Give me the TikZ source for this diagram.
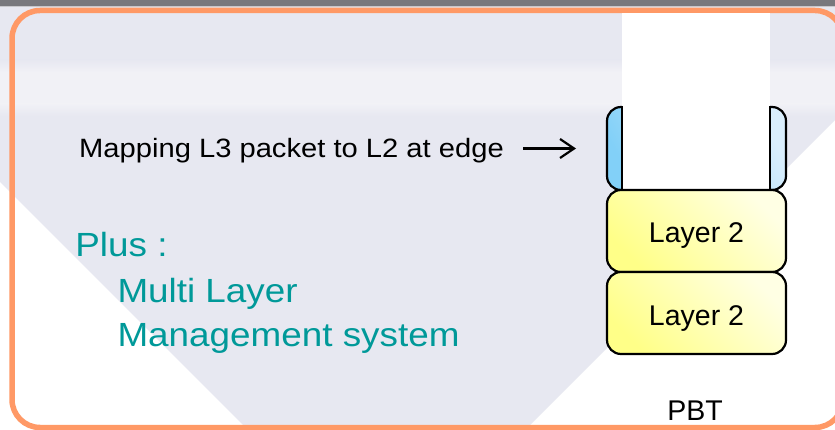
\documentclass[tikz,border=0pt]{standalone}
\usepackage{fontspec}
\setmainfont{Liberation Sans}
\usepackage{graphicx}
\usetikzlibrary{arrows.meta}

\definecolor{frameorange}{RGB}{255,153,102}
\definecolor{plusteal}{RGB}{0,153,153}
\definecolor{wmark}{RGB}{231,232,241}
\definecolor{wband}{RGB}{241,241,246}
\definecolor{topgray}{RGB}{120,120,125}
\definecolor{topline}{RGB}{200,200,204}
\definecolor{capdark}{RGB}{130,208,248}
\definecolor{caplight}{RGB}{218,238,252}
\definecolor{layerdark}{RGB}{255,255,136}
\definecolor{layerlight}{RGB}{255,255,228}

\tikzset{
	frameline/.style={draw=frameorange, line width=5.5pt, rounded corners=28pt},
	layerbox/.style={draw=black, line width=2.2pt, rounded corners=14pt, minimum width=179pt, minimum height=82pt, inner sep=0pt, text height=24pt, text depth=0pt, left color=layerdark, right color=layerlight, shading angle=135, font=\fontsize{28.5}{34}\selectfont},
	capbox/.style={draw=black, line width=2.2pt, rounded corners=14pt, minimum width=179pt, minimum height=83pt, inner sep=0pt, left color=capdark, right color=caplight, shading angle=120},
	maskbox/.style={fill=white, minimum width=148pt, minimum height=177pt, inner sep=0pt},
	capline/.style={draw=black, line width=2.2pt},
	maptext/.style={anchor=base west, inner sep=0pt, font=\fontsize{26.5}{32}\selectfont},
	plustext/.style={anchor=base west, inner sep=0pt, text=plusteal, font=\fontsize{33.5}{45}\selectfont},
	pbtlabel/.style={anchor=base, inner sep=0pt, font=\fontsize{28.5}{34}\selectfont},
	maparrow/.style={draw=black, line width=2.2pt, -{Straight Barb[length=14pt,width=19pt]}}
}

\begin{document}
\begin{tikzpicture}[x=1pt, y=-1pt]
			\useasboundingbox (0,0) rectangle (835,430);
			\fill[white] (0,0) rectangle (835,430);
			\fill[wmark] (0,0) -- (835,0) -- (835,120) -- (525,430) -- (248,430) -- (0,182) -- cycle;
			\shade[top color=wmark, bottom color=wband] (0,60) rectangle (835,72);
			\fill[wband] (0,72) rectangle (835,104);
			\shade[top color=wband, bottom color=wmark] (0,104) rectangle (835,116);
			\fill[topgray] (0,0) rectangle (835,6);
			\fill[topline] (0,6) rectangle (835,7.5);
			\draw[frameline] (12,10.5) rectangle (843,427.5);
			\node[capbox] (cap) at (696.5,148.5) {};
			\node[maskbox] (mask) at (696,101.5) {};
			\draw[capline] (mask.west |- cap.north) -- (mask.south west);
			\draw[capline] (mask.east |- cap.north) -- (mask.south east);
			\node[layerbox] (l2top) at (696.5,231) {Layer 2};
			\node[layerbox] (l2bot) at (696.5,313) {Layer 2};
			\node[pbtlabel] (pbt) at (695,420) {PBT};
			\node[maptext] (map) at (79,158) {\scalebox{1.1}[1]{Mapping L3 packet to L2 at edge}};
			\coordinate (maptip) at (576,148.5);
			\draw[maparrow] ([xshift=19pt]map.east |- maptip) -- (maptip);
			\node[plustext] (plus) at (75.2,257) {\scalebox{1.1}[1]{Plus :}};
			\node[plustext] (multi) at (117.3,302.5) {\scalebox{1.1}[1]{Multi Layer}};
			\node[plustext] (mgmt) at (117.3,346.5) {\scalebox{1.1}[1]{Management system}};
		\end{tikzpicture}
\end{document}
